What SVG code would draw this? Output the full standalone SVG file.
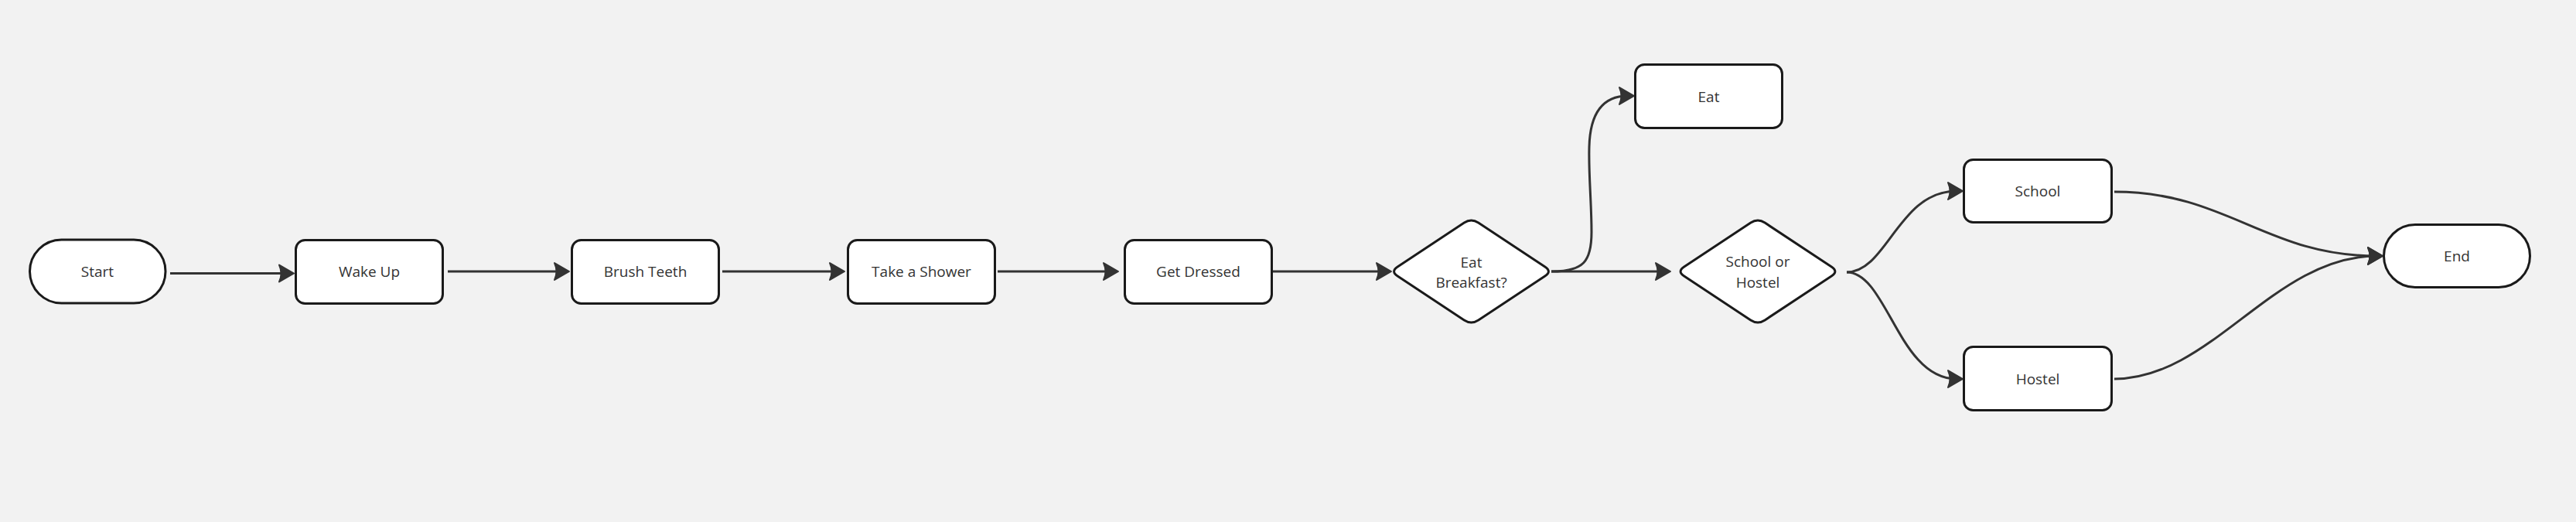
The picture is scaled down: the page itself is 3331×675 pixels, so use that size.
<svg xmlns="http://www.w3.org/2000/svg" width="3331" height="675" viewBox="0 0 3331 675">
  <style>
    .node { fill: #ffffff; stroke: #1a1a1a; stroke-width: 3; }
    .lbl { font-family: "Open Sans", "Liberation Sans", sans-serif; font-size: 19px; fill: #333333; text-anchor: middle; }
    .edge { fill: none; stroke: #333333; stroke-width: 3; }
  </style>
  <defs>
    <marker id="arrow" markerUnits="userSpaceOnUse" viewBox="-22 -14 24 28" refX="-8" refY="0" markerWidth="24" markerHeight="28" orient="auto">
      <path d="M0,0 L-19,-11 Q-14,0 -19,11 Z" fill="#333333" stroke="#333333" stroke-width="2" stroke-linejoin="round"/>
    </marker>
    <path id="diamond" d="M-95.3,-6.06 L-9.18,-62.94 Q0,-69 9.18,-62.94 L95.3,-6.06 Q104.5,0 95.3,6.06 L9.18,62.94 Q0,69 -9.18,62.94 L-95.3,6.06 Q-104.5,0 -95.3,-6.06 Z"/>
  </defs>
  <rect width="3331" height="675" fill="#f2f2f2"/>

  <g id="connectors">
    <path class="edge" d="M220,353.5 L372,353.5" marker-end="url(#arrow)"/>
    <path class="edge" d="M579,351 L728,351" marker-end="url(#arrow)"/>
    <path class="edge" d="M934,351 L1084,351" marker-end="url(#arrow)"/>
    <path class="edge" d="M1290,351 L1438,351" marker-end="url(#arrow)"/>
    <path class="edge" d="M1646,351 L1791,351" marker-end="url(#arrow)"/>
    <path class="edge" d="M2006,351 L2152,351" marker-end="url(#arrow)"/>
    <path class="edge" d="M2006,351 C2048,351 2058,338 2058,300 C2058,262 2054,225 2055,190 C2056,150 2070,124 2105,124" marker-end="url(#arrow)"/>
    <path class="edge" d="M2388,352 C2440,352 2455,247 2530,247" marker-end="url(#arrow)"/>
    <path class="edge" d="M2388,352 C2440,352 2455,490 2530,490" marker-end="url(#arrow)"/>
    <path class="edge" d="M2734,248 C2880,248 2930,331 3073,331" marker-end="url(#arrow)"/>
    <path class="edge" d="M2734,490 C2860,490 2940,331 3073,331" marker-end="url(#arrow)"/>
  </g>

  <g id="start">
    <rect class="node" x="38.5" y="310" width="175.5" height="82" rx="41"/>
    <text class="lbl" x="126" y="358">Start</text>
  </g>
  <g id="wake-up">
    <rect class="node" x="382.5" y="310.5" width="190" height="82" rx="12"/>
    <text class="lbl" x="477.5" y="358">Wake Up</text>
  </g>
  <g id="brush-teeth">
    <rect class="node" x="739.5" y="310.5" width="190" height="82" rx="12"/>
    <text class="lbl" x="834.5" y="358">Brush Teeth</text>
  </g>
  <g id="take-a-shower">
    <rect class="node" x="1096.5" y="310.5" width="190" height="82" rx="12"/>
    <text class="lbl" x="1191.5" y="358">Take a Shower</text>
  </g>
  <g id="get-dressed">
    <rect class="node" x="1454.5" y="310.5" width="190" height="82" rx="12"/>
    <text class="lbl" x="1549.5" y="358">Get Dressed</text>
  </g>
  <g id="eat-breakfast">
    <use href="#diamond" class="node" transform="translate(1902.5,351)"/>
    <text class="lbl" x="1902.5" y="346">Eat</text>
    <text class="lbl" x="1902.5" y="372">Breakfast?</text>
  </g>
  <g id="eat">
    <rect class="node" x="2114.5" y="83.5" width="190" height="82" rx="12"/>
    <text class="lbl" x="2209.5" y="131.5">Eat</text>
  </g>
  <g id="school-or-hostel">
    <use href="#diamond" class="node" transform="translate(2273,351)"/>
    <text class="lbl" x="2273" y="345">School or</text>
    <text class="lbl" x="2273" y="372">Hostel</text>
  </g>
  <g id="school">
    <rect class="node" x="2539.5" y="206.5" width="191" height="81" rx="12"/>
    <text class="lbl" x="2635" y="254">School</text>
  </g>
  <g id="hostel">
    <rect class="node" x="2539.5" y="448.5" width="191" height="82" rx="12"/>
    <text class="lbl" x="2635" y="496.5">Hostel</text>
  </g>
  <g id="end">
    <rect class="node" x="3082.5" y="290.5" width="189" height="81" rx="40.5"/>
    <text class="lbl" x="3177" y="338">End</text>
  </g>
</svg>
